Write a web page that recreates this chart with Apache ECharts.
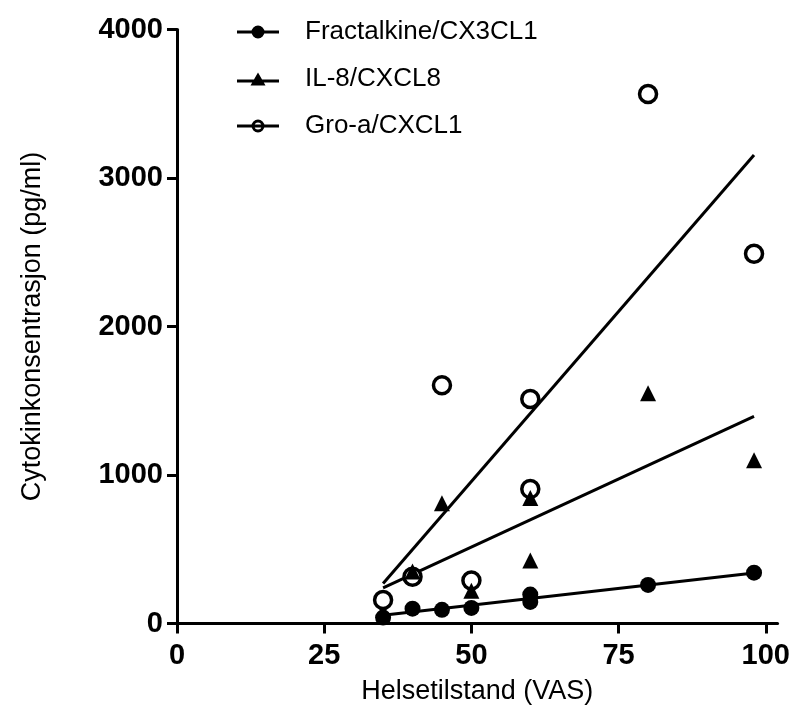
<!DOCTYPE html>
<html>
<head>
<meta charset="utf-8">
<script src="https://cdn.jsdelivr.net/npm/echarts@6/dist/echarts.min.js"></script>
<style>
html,body{margin:0;padding:0;background:#fff;}
#chart{width:793px;height:718px;}
</style>
</head>
<body>
<div id="chart"></div>
<script>
// ---- data ----
const seriesNames = ['Fractalkine/CX3CL1', 'IL-8/CXCL8', 'Gro-a/CXCL1'];
const vas = [35, 40, 45, 50, 60, 60, 80, 98];
const fractalkine = [40, 100, 92, 105, 195, 145, 260, 342];
const il8 = [45, 350, 810, 220, 425, 845, 1550, 1100];
const groa = [158, 315, 1605, 290, 1512, 905, 3565, 2490];
// fitted regression lines (end points)
const fitX = [35, 98];
const fitFractalkine = [55, 340];
const fitIl8 = [240, 1395];
const fitGroa = [270, 3155];
const xTicks = [0, 25, 50, 75, 100];
const yTicks = [0, 1000, 2000, 3000, 4000];

const pairs = (xs, ys) => xs.map((x, i) => [x, ys[i]]);
const FONT = 'Liberation Sans, Arial, Helvetica, sans-serif';

const iconFilled = 'path://M0 5 L42 5 L42 8 L0 8 Z M27.5 6.5 A6.5 6.5 0 1 1 14.5 6.5 A6.5 6.5 0 1 1 27.5 6.5 Z';
const iconTri = 'path://M0 7 L42 7 L42 10 L0 10 Z M21 0 L28.5 13 L13.5 13 Z';
const iconRing = 'path://M0 5 L42 5 L42 8 L0 8 Z M27.5 6.5 A6.5 6.5 0 1 1 14.5 6.5 A6.5 6.5 0 1 1 27.5 6.5 Z M24.5 6.5 A3.5 3.5 0 1 0 17.5 6.5 A3.5 3.5 0 1 0 24.5 6.5 Z';
const legendIconStyle = {color: '#000', borderWidth: 0, opacity: 1};

const chart = echarts.init(document.getElementById('chart'), null, {renderer: 'canvas'});
chart.setOption({
  animation: false,
  backgroundColor: '#fff',
  grid: {left: 177, top: 29.5, right: 11, bottom: 94.5, containLabel: false},
  legend: {
    orient: 'vertical',
    left: 237,
    top: 19,
    padding: 0,
    itemWidth: 42,
    itemHeight: 13,
    itemGap: 21,
    selectedMode: false,
    textStyle: {fontFamily: FONT, fontSize: 26, color: '#000', lineHeight: 26, padding: [0, 0, 0, 21]},
    data: [
      {name: seriesNames[0], icon: iconFilled, itemStyle: legendIconStyle},
      {name: seriesNames[1], icon: iconTri, itemStyle: legendIconStyle},
      {name: seriesNames[2], icon: iconRing, itemStyle: legendIconStyle}
    ]
  },
  xAxis: {
    type: 'value',
    min: 0,
    max: 102,
    interval: 25,
    name: 'Helsetilstand (VAS)',
    nameLocation: 'middle',
    nameGap: 55,
    nameTextStyle: {fontFamily: FONT, fontSize: 27, color: '#000'},
    axisLine: {show: true, onZero: false, lineStyle: {color: '#000', width: 3}},
    axisTick: {show: true, length: 10, lineStyle: {color: '#000', width: 3}, customValues: xTicks},
    axisLabel: {fontFamily: FONT, fontSize: 29, fontWeight: 'bold', color: '#000', margin: 18, customValues: xTicks,
      formatter: v => String(v)},
    splitLine: {show: false}
  },
  yAxis: {
    type: 'value',
    min: 0,
    max: 4000,
    interval: 1000,
    name: 'Cytokinkonsentrasjon (pg/ml)',
    nameLocation: 'middle',
    nameGap: 131,
    nameRotate: 90,
    nameTextStyle: {fontFamily: FONT, fontSize: 27, color: '#000'},
    axisLine: {show: true, onZero: false, lineStyle: {color: '#000', width: 3}},
    axisTick: {show: true, length: 10, lineStyle: {color: '#000', width: 3}, customValues: yTicks},
    axisLabel: {fontFamily: FONT, fontSize: 29, fontWeight: 'bold', color: '#000', margin: 14, customValues: yTicks,
      formatter: v => String(v)},
    splitLine: {show: false}
  },
  series: [
    {
      name: 'fit-groa', type: 'line', data: pairs(fitX, fitGroa), showSymbol: false, symbol: 'none',
      lineStyle: {color: '#000', width: 3}, z: 2, silent: true
    },
    {
      name: 'fit-il8', type: 'line', data: pairs(fitX, fitIl8), showSymbol: false, symbol: 'none',
      lineStyle: {color: '#000', width: 3}, z: 2, silent: true
    },
    {
      name: 'fit-fractalkine', type: 'line', data: pairs(fitX, fitFractalkine), showSymbol: false, symbol: 'none',
      lineStyle: {color: '#000', width: 3}, z: 2, silent: true
    },
    {
      name: seriesNames[2], type: 'scatter', data: pairs(vas, groa),
      symbol: 'circle', symbolSize: 17,
      itemStyle: {color: '#fff', borderColor: '#000', borderWidth: 3.5, opacity: 1}, z: 3
    },
    {
      name: seriesNames[1], type: 'scatter', data: pairs(vas, il8),
      symbol: 'triangle', symbolSize: 16,
      itemStyle: {color: '#000', opacity: 1}, z: 4
    },
    {
      name: seriesNames[0], type: 'scatter', data: pairs(vas, fractalkine),
      symbol: 'circle', symbolSize: 16,
      itemStyle: {color: '#000', opacity: 1}, z: 5
    }
  ]
});
</script>
</body>
</html>
